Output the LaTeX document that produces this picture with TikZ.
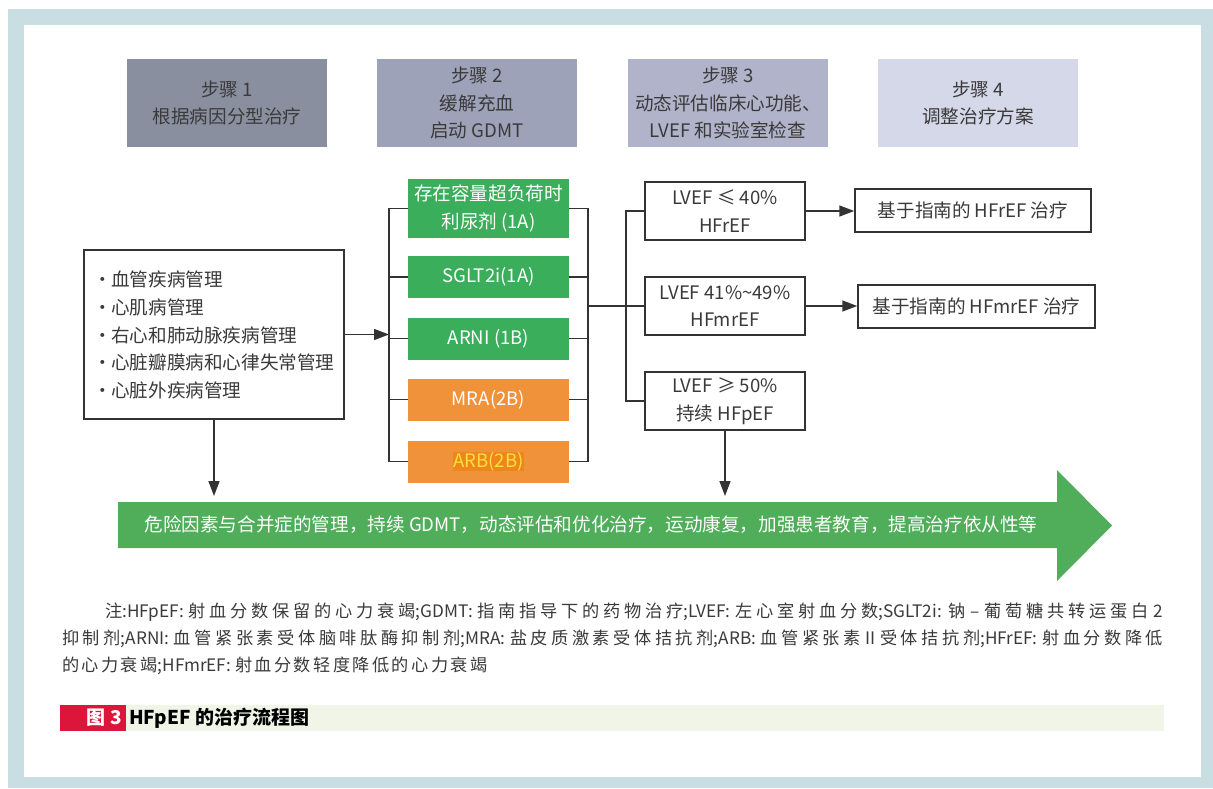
\documentclass[tikz,border=0pt]{standalone}
\usepackage{fontspec}
\setmainfont{Noto Sans CJK SC}
\usetikzlibrary{arrows.meta}
\definecolor{frameblue}{HTML}{C8DEE2}
\definecolor{hdrA}{HTML}{8A8FA0}
\definecolor{hdrB}{HTML}{9DA2B8}
\definecolor{hdrC}{HTML}{B1B3CA}
\definecolor{hdrD}{HTML}{D5D8E8}
\definecolor{txt}{HTML}{3A3A3A}
\definecolor{drugG}{HTML}{3AAE5A}
\definecolor{drugO}{HTML}{F0923A}
\definecolor{arbHL}{HTML}{EE861E}
\definecolor{arbTX}{HTML}{FFDF3A}
\definecolor{arrowG}{HTML}{50AD5A}
\definecolor{lineC}{HTML}{333333}
\definecolor{capRed}{HTML}{DC163A}
\definecolor{capBand}{HTML}{F0F5E8}
\newcommand{\notesetup}{\fontsize{17.2}{27}\selectfont\XeTeXlinebreaklocale "zh"\XeTeXlinebreakskip=2.4pt plus 3pt\relax\tolerance=9999\relax}
\newcommand{\capfont}{\fontsize{19}{19}\selectfont\bfseries}
\newcommand{\bul}{\makebox[18pt][l]{•}}
\begin{document}
\begin{tikzpicture}[x=1pt,y=-1pt,
  mainfont/.style={font=\fontsize{18.6}{27.7}\selectfont},
  hdr/.style={mainfont, minimum width=200pt, minimum height=88pt, inner sep=0pt, align=center, text=txt},
  drug/.style={mainfont, minimum width=161pt, minimum height=42pt, inner sep=0pt, align=center, text=white},
  wbox/.style={mainfont, draw=lineC, line width=1.5pt, fill=white, inner sep=0pt, align=center, text=txt},
  conn/.style={draw=lineC, line width=1.5pt},
  arr/.style={conn, -{Triangle[length=15pt,width=11pt]}},
]
\useasboundingbox (0,0) rectangle (1213,788);
\fill[frameblue] (8,9) rectangle (1213,788);
\fill[white] (24,25) rectangle (1201,777);

% headers
\node[hdr, fill=hdrA] (s1) at (227,103) {步骤 1\\根据病因分型治疗};
\node[hdr, fill=hdrB] (s2) at (477,103) {步骤 2\\缓解充血\\启动 GDMT};
\node[hdr, fill=hdrC] (s3) at (728,103) {步骤 3\\动态评估临床心功能、\\LVEF 和实验室检查};
\node[hdr, fill=hdrD] (s4) at (978,103) {步骤 4\\调整治疗方案};

% left box
\node[wbox, minimum width=260pt, minimum height=169pt] (lb) at (214,334.5) {};
\node[mainfont, text=txt, align=left, anchor=west, inner sep=0pt] (lbt) at (93,335)
  {\bul 血管疾病管理\\\bul 心肌病管理\\\bul 右心和肺动脉疾病管理\\\bul 心脏瓣膜病和心律失常管理\\\bul 心脏外疾病管理};

% drugs
\node[drug, fill=drugG, minimum height=59pt] (d1) at (488.5,208.5) {存在容量超负荷时\\利尿剂 (1A)};
\node[drug, fill=drugG] (d2) at (488.5,277) {SGLT2i(1A)};
\node[drug, fill=drugG] (d3) at (488.5,338.5) {ARNI (1B)};
\node[drug, fill=drugO] (d4) at (488.5,399.5) {MRA(2B)};
\node[drug, fill=drugO] (d5) at (488.5,461.5) {\setlength{\fboxsep}{0pt}\colorbox{arbHL}{\textcolor{arbTX}{ARB(2B)}}};

\coordinate (blt) at (389,208.5);
\draw[conn] (d1.west) -- (blt) -- (blt |- d5.west) -- (d5.west);
\foreach \n in {d2,d3,d4} \draw[conn] (\n.west) -- (\n.west -| blt);
\coordinate (brt) at (588,208.5);
\draw[conn] (d1.east) -- (brt) -- (brt |- d5.east) -- (d5.east);
\foreach \n in {d2,d3,d4} \draw[conn] (\n.east) -- (\n.east -| brt);

\draw[arr] (lb.east) -- (lb.east -| blt);

% LVEF
\node[wbox, minimum width=160pt, minimum height=58pt] (e1) at (725,211) {LVEF ≤ 40\%\\HFrEF};
\node[wbox, minimum width=160pt, minimum height=58pt] (e2) at (725,306) {LVEF 41\%\textasciitilde 49\%\\HFmrEF};
\node[wbox, minimum width=160pt, minimum height=58pt] (e3) at (725,401) {LVEF ≥ 50\%\\持续 HFpEF};

\coordinate (lvt) at (626,211);
\draw[conn] (e1.west) -- (lvt) -- (lvt |- e3.west) -- (e3.west);
\draw[conn] (brt |- e2.west) -- (e2.west);

% targets
\node[wbox, minimum width=236pt, minimum height=43pt] (t1) at (973,210.5) {基于指南的 HFrEF 治疗};
\node[wbox, minimum width=237pt, minimum height=43pt] (t2) at (976.5,306.5) {基于指南的 HFmrEF 治疗};
\draw[arr] (e1.east) -- (e1.east -| t1.west);
\draw[arr] (e2.east) -- (e2.east -| t2.west);

% green arrow
\fill[arrowG] (118,502) -- (1057,502) -- (1057,470) -- (1112,525.5) -- (1057,581) -- (1057,548) -- (118,548) -- cycle;
\node[mainfont, text=white, inner sep=0pt] (gt) at (591,525) {危险因素与合并症的管理，持续 GDMT，动态评估和优化治疗，运动康复，加强患者教育，提高治疗依从性等};
\coordinate (gtop) at (0,496);
\draw[arr] (lb.south) -- (lb.south |- gtop);
\draw[arr] (e3.south) -- (e3.south |- gtop);

% footnote
\node[anchor=north west, text width=1101pt, inner sep=0pt, align=justify, text=txt, font=\notesetup] (note) at (62,603)
  {\hspace*{43pt}注:HFpEF: 射血分数保留的心力衰竭;GDMT: 指南指导下的药物治疗;LVEF: 左心室射血分数;SGLT2i: 钠 – 葡萄糖共转运蛋白 2\linebreak
  抑制剂;ARNI: 血管紧张素受体脑啡肽酶抑制剂;MRA: 盐皮质激素受体拮抗剂;ARB: 血管紧张素 II 受体拮抗剂;HFrEF: 射血分数降低\linebreak
  的心力衰竭;HFmrEF: 射血分数轻度降低的心力衰竭};

% caption
\fill[capBand] (126,705) rectangle (1164,731);
\fill[capRed] (60,705) rectangle (126,731);
\node[font=\capfont, text=white, anchor=east, inner sep=0pt] (capnum) at (122,718) {图 3};
\node[font=\capfont, text=black, anchor=west, inner sep=0pt] (captxt) at (129,718) {HFpEF 的治疗流程图};
\end{tikzpicture}
\end{document}
